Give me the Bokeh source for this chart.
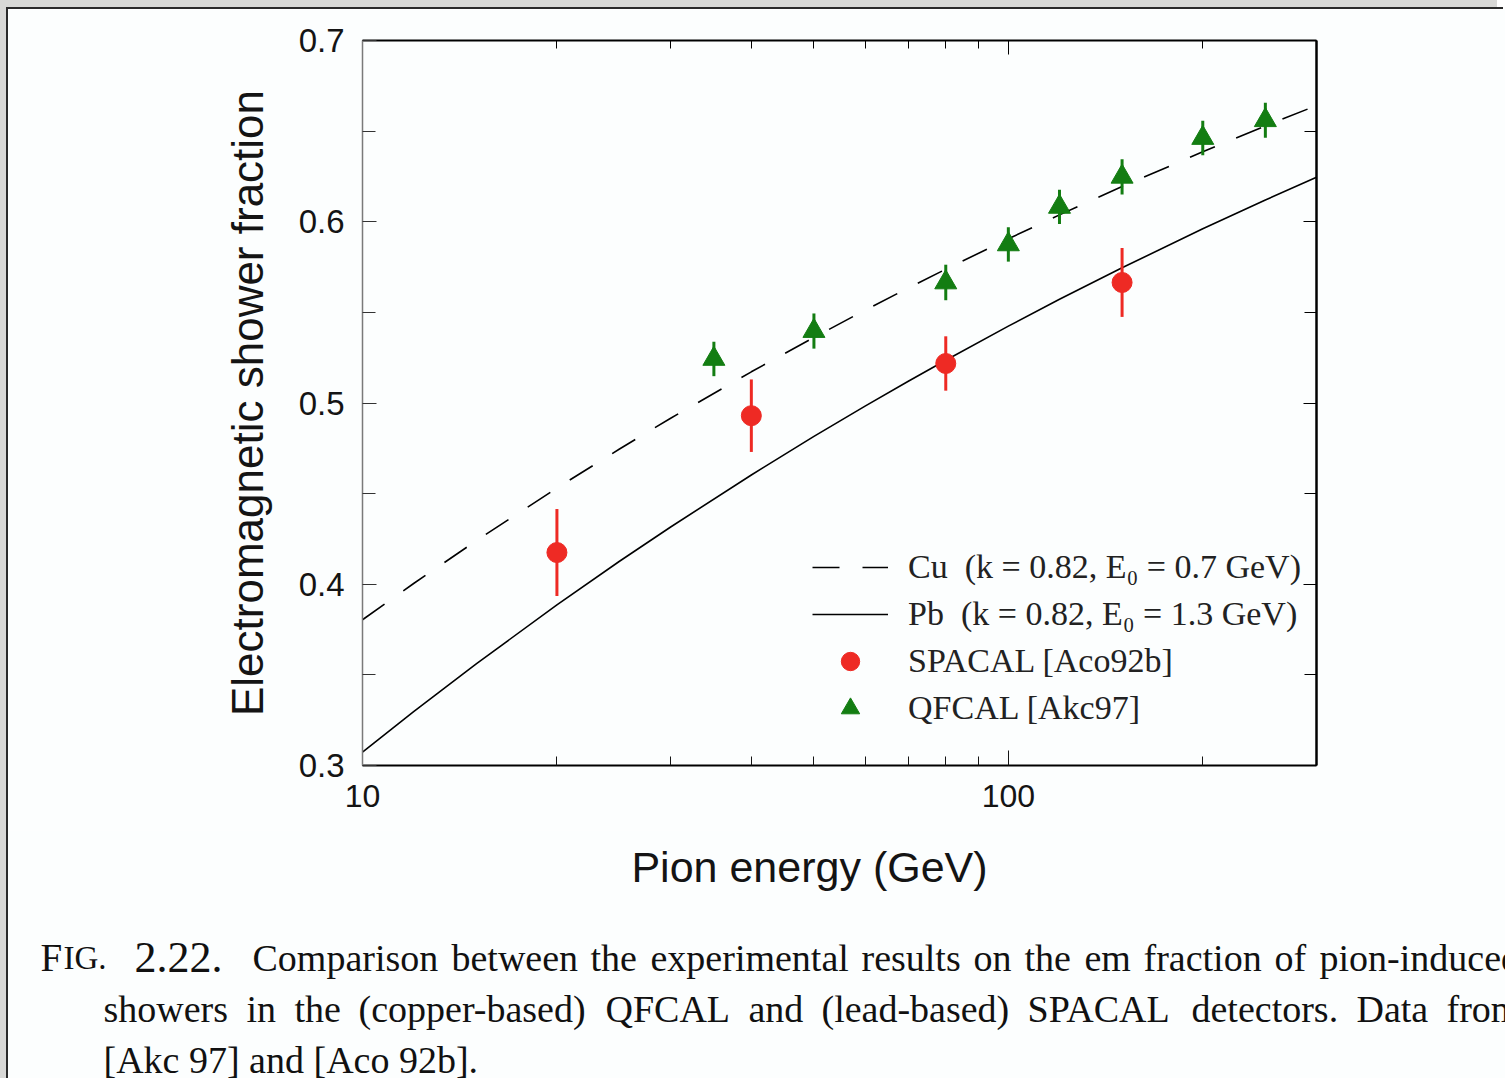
from bokeh.plotting import figure
from bokeh.models import (LogAxis, LinearAxis, FixedTicker, Range1d,
                          Legend, LegendItem)
from bokeh.core.properties import value
from bokeh.embed import file_html
from bokeh.resources import INLINE

# ---------------- data ----------------
curve_energy = [10, 12, 15, 20, 25, 30, 40, 50, 60, 70, 80, 100, 120, 150, 200, 250, 300]
cu_fraction = [0.3804, 0.4004, 0.4240, 0.4531, 0.4746, 0.4916, 0.5172, 0.5362, 0.5512,
               0.5635, 0.5738, 0.5906, 0.6038, 0.6194, 0.6386, 0.6529, 0.6641]
pb_fraction = [0.3074, 0.3297, 0.3561, 0.3886, 0.4127, 0.4316, 0.4603, 0.4816, 0.4983,
               0.5120, 0.5236, 0.5424, 0.5572, 0.5746, 0.5961, 0.6120, 0.6245]

spacal_energy = [20, 40, 80, 150]
spacal_fraction = [0.4175, 0.4930, 0.5218, 0.5665]
spacal_error = [0.024, 0.020, 0.015, 0.019]

qfcal_energy = [35, 50, 80, 100, 120, 150, 200, 250]
qfcal_fraction = [0.5243, 0.5397, 0.5665, 0.5875, 0.6082, 0.6248, 0.6462, 0.6560]
qfcal_error = [0.0095, 0.0097, 0.0098, 0.0095, 0.0095, 0.0097, 0.0095, 0.0097]

y_ticks = [0.3, 0.4, 0.5, 0.6, 0.7]
y_minor = [0.35, 0.45, 0.55, 0.65]
y_labels = ["0.3", "0.4", "0.5", "0.6", "0.7"]
x_ticks = [10, 100]
x_minor = [20, 30, 40, 50, 60, 70, 80, 90, 200, 300]
x_labels = ["10", "100"]

legend_labels = ["Cu\u00a0 (k = 0.82, E\u2080 = 0.7 GeV)",
                 "Pb\u00a0 (k = 0.82, E\u2080 = 1.3 GeV)",
                 "SPACAL [Aco92b]",
                 "QFCAL [Akc97]"]

caption_line1 = ["Comparison", "between", "the", "experimental", "results", "on",
                 "the", "em", "fraction", "of", "pion-induced"]
caption_x1 = [252, 451, 590, 650, 861, 973, 1024, 1084, 1143, 1274, 1319]
caption_line2 = ["showers", "in", "the", "(copper-based)", "QFCAL", "and",
                 "(lead-based)", "SPACAL", "detectors.", "Data", "from"]
caption_x2 = [103, 246, 294, 358, 605, 748, 821, 1027, 1191, 1356, 1446]
caption_line3 = "[Akc 97] and [Aco 92b]."

RED = "#ee2a24"
GREEN = "#137d12"
INK = "#141414"
BG = "#fcfefe"
EDGE_DARK = "#2a2a2a"
EDGE_GRAY = "#d8d8d6"

OX, OY = 8, 9          # page offset of the drawing
W = 1497
H_MAIN = 821           # page y 9 .. 830
H_CAP = 1078 - OY - H_MAIN

p = figure(width=W, height=H_MAIN, x_axis_type="log",
           x_range=Range1d(10, 300), y_range=Range1d(0.3, 0.7),
           min_border_left=354, min_border_right=189,
           min_border_top=31, min_border_bottom=65,
           output_backend="svg", toolbar_location=None, title=None)
p.styles = {"margin-left": "8px", "margin-top": "9px",
            "box-shadow": (f"-2px -2px 0 0 {EDGE_DARK}, -2px 0 0 0 {EDGE_DARK}, "
                           f"-8px -9px 0 0 {EDGE_GRAY}, -8px 0 0 0 {EDGE_GRAY}")}
p.background_fill_color = BG
p.border_fill_color = BG
p.outline_line_color = None
p.grid.visible = False

# ----- curves -----
cu_r = p.line(curve_energy, cu_fraction, line_color="black", line_width=1.6,
              line_dash="27 23")
pb_r = p.line(curve_energy, pb_fraction, line_color="black", line_width=1.6)

# ----- data points with error bars -----
sp_lo = [f - e for f, e in zip(spacal_fraction, spacal_error)]
sp_hi = [f + e for f, e in zip(spacal_fraction, spacal_error)]
p.segment(x0=spacal_energy, y0=sp_lo, x1=spacal_energy, y1=sp_hi,
          line_color=RED, line_width=3)
sp_r = p.scatter(spacal_energy, spacal_fraction, marker="circle", size=20,
                 fill_color=RED, line_color=RED)

qf_lo = [f - e for f, e in zip(qfcal_fraction, qfcal_error)]
qf_hi = [f + e for f, e in zip(qfcal_fraction, qfcal_error)]
p.segment(x0=qfcal_energy, y0=qf_lo, x1=qfcal_energy, y1=qf_hi,
          line_color=GREEN, line_width=3)
qf_r = p.scatter(qfcal_energy, qfcal_fraction, marker="triangle", size=22,
                 fill_color=GREEN, line_color=GREEN)

# ----- axes -----
xa = p.xaxis[0]
xa.ticker = FixedTicker(ticks=x_ticks, minor_ticks=x_minor)
xa.major_label_overrides = {t: l for t, l in zip(x_ticks, x_labels)}
xa.major_tick_in = 15
xa.major_tick_out = 0
xa.minor_tick_in = 9
xa.minor_tick_out = 0
xa.major_label_standoff = 19
xa.major_label_text_font = "Liberation Sans"
xa.major_label_text_font_size = "32px"
xa.major_label_text_color = INK
xa.axis_line_color = "black"
xa.axis_line_width = 2
xa.major_tick_line_color = INK
xa.minor_tick_line_color = INK

ya = p.yaxis[0]
ya.ticker = FixedTicker(ticks=y_ticks, minor_ticks=y_minor)
ya.major_label_overrides = {t: l for t, l in zip(y_ticks, y_labels)}
ya.major_tick_in = 14
ya.major_tick_out = 0
ya.minor_tick_in = 13
ya.minor_tick_out = 0
ya.major_label_standoff = 18
ya.major_label_text_font = "Liberation Sans"
ya.major_label_text_font_size = "33px"
ya.major_label_text_color = INK
ya.axis_line_color = "#7a7a7a"
ya.axis_line_width = 1.5
ya.major_tick_line_color = "#333333"
ya.minor_tick_line_color = "#333333"
ya.axis_label = "Electromagnetic shower fraction"
ya.axis_label_text_font = "Liberation Sans"
ya.axis_label_text_font_size = "44px"
ya.axis_label_text_font_style = "normal"
ya.axis_label_text_color = INK
ya.axis_label_standoff = 24

top = LogAxis(ticker=FixedTicker(ticks=x_ticks, minor_ticks=x_minor),
              major_label_text_font_size="2px", major_label_text_alpha=0,
              major_label_standoff=0,
              major_tick_in=14, major_tick_out=0, minor_tick_in=8, minor_tick_out=0,
              axis_line_color="black", axis_line_width=2)
p.add_layout(top, "above")

right = LinearAxis(ticker=FixedTicker(ticks=y_ticks, minor_ticks=y_minor),
                   major_label_text_font_size="2px", major_label_text_alpha=0,
                   major_label_standoff=0,
                   major_tick_in=13, major_tick_out=0, minor_tick_in=12, minor_tick_out=0,
                   axis_line_color="black", axis_line_width=2.5)
p.add_layout(right, "right")

# ----- legend -----
legend = Legend(items=[LegendItem(label=legend_labels[0], renderers=[cu_r]),
                       LegendItem(label=legend_labels[1], renderers=[pb_r]),
                       LegendItem(label=legend_labels[2], renderers=[sp_r]),
                       LegendItem(label=legend_labels[3], renderers=[qf_r])],
                location=(450, 34), padding=0, margin=0, spacing=1,
                glyph_width=76, glyph_height=46, label_height=46,
                label_standoff=20, label_text_font="Liberation Serif",
                label_text_font_size="34px", label_text_color="#222222",
                border_line_alpha=0, background_fill_alpha=0)
p.add_layout(legend)

# ---------------- caption panel (x label + figure caption) ----------------
cap = figure(width=W, height=H_CAP, x_range=Range1d(OX, OX + W),
             y_range=Range1d(OY + H_MAIN + H_CAP, OY + H_MAIN),
             min_border=0, x_axis_location=None, y_axis_location=None,
             output_backend="svg", toolbar_location=None, title=None)
cap.styles = {"margin-left": "8px",
              "box-shadow": f"-2px 0 0 0 {EDGE_DARK}, -8px 0 0 0 {EDGE_GRAY}"}
cap.background_fill_color = BG
cap.border_fill_color = BG
cap.outline_line_color = None
cap.grid.visible = False

# axis title (page coordinates)
cap.text(x=[809], y=[866], text=["Pion energy (GeV)"], text_align="center",
         text_baseline="alphabetic", text_font=value("Liberation Sans"),
         text_font_size=value("43px"), text_color=INK)

serif = dict(text_baseline="alphabetic", text_font=value("Liberation Serif"),
             text_color="#111111")
cap.text(x=[40], y=[957], text=["F"], text_font_size=value("39px"), **serif)
cap.text(x=[63], y=[957], text=["IG."], text_font_size=value("33px"), **serif)
cap.text(x=[134], y=[957], text=["2.22."], text_font_size=value("44px"), **serif)
cap.text(x=caption_x1, y=[957] * len(caption_line1), text=caption_line1,
         text_font_size=value("38px"), **serif)
cap.text(x=caption_x2, y=[1008] * len(caption_line2), text=caption_line2,
         text_font_size=value("38px"), **serif)
cap.text(x=[103], y=[1059], text=[caption_line3], text_font_size=value("38px"), **serif)

open("out.html", "w").write(file_html([p, cap], INLINE))
